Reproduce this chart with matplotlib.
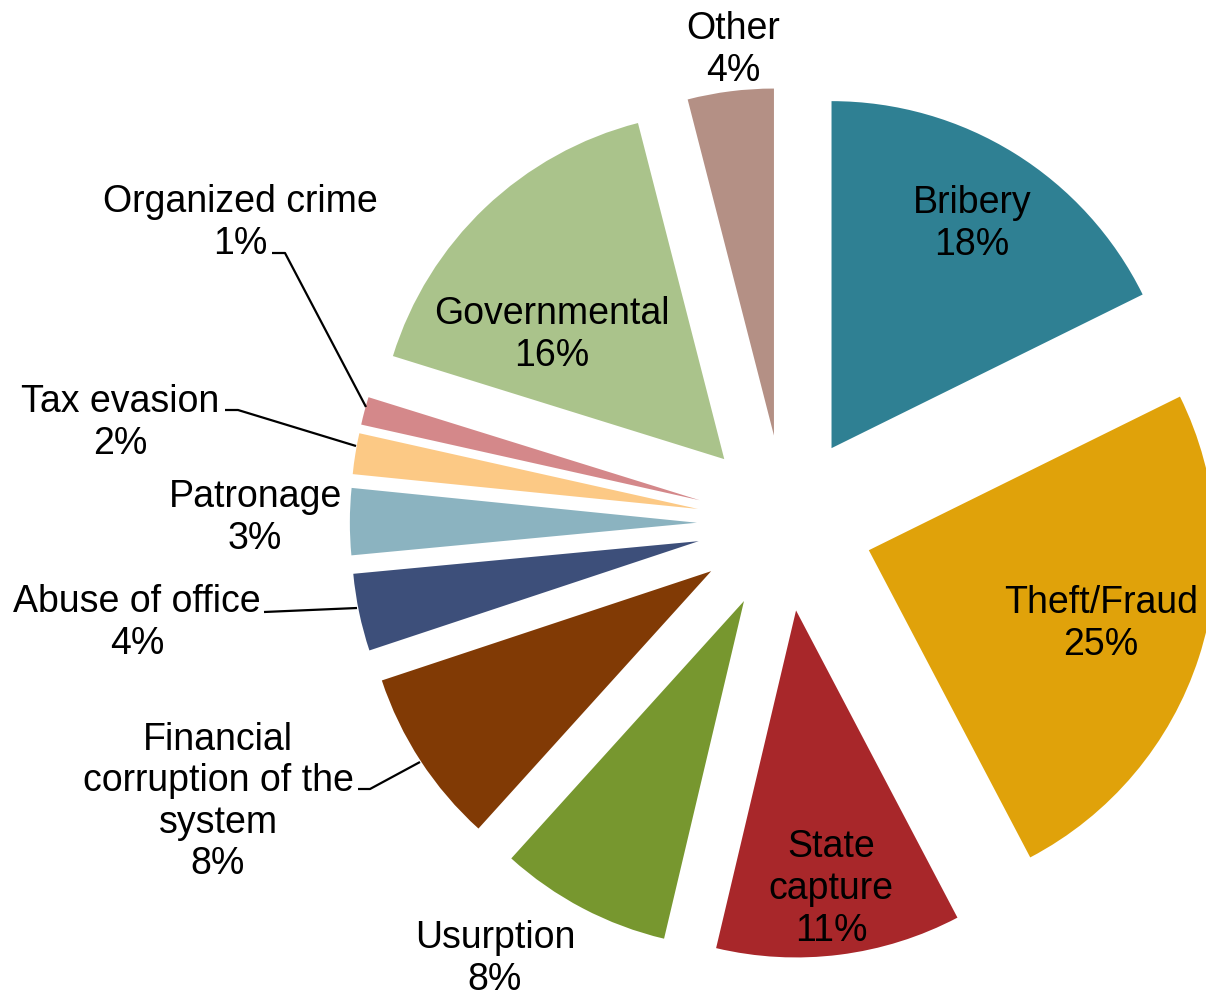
import matplotlib
matplotlib.use("Agg")
import matplotlib.pyplot as plt

categories = ["Bribery", "Theft/Fraud", "State capture", "Usurption",
              "Financial corruption of the system", "Abuse of office",
              "Patronage", "Tax evasion", "Organized crime", "Governmental", "Other"]
values = [17.7, 24.6, 11.4, 8.0, 8.2, 3.6, 3.1, 1.9, 1.3, 16.2, 4.0]
pct_labels = ["18%", "25%", "11%", "8%", "8%", "4%", "3%", "2%", "1%", "16%", "4%"]
display_names = ["Bribery", "Theft/Fraud", "State\ncapture", "Usurption",
                 "Financial\ncorruption of the\nsystem", "Abuse of office",
                 "Patronage", "Tax evasion", "Organized crime", "Governmental", "Other"]
colors = ["#2F8093", "#E0A20A", "#A8272A", "#77972F", "#813A05", "#3D4F7A",
          "#8BB3C0", "#FCC985", "#D4888A", "#AAC38B", "#B49085"]

W, H = 1206, 997
CX, CY, R = 785, 523, 347

def px(x, y):
    return ((x - CX) / R, (CY - y) / R)

# label centres in pixel coords
label_pos = [(972, 224), (1101, 624), (831, 889), (495, 959), (218, 802),
             (137, 623), (255, 518), (120, 423), (240, 223), (552, 335), (733, 50)]

# leader lines (pixel polylines)
leaders = {
    8: [(272, 253), (285, 253), (366, 407)],
    7: [(225, 410), (238, 410), (356, 446)],
    5: [(264, 612), (357, 608)],
    4: [(358, 789), (370, 789), (420, 762)],
}

fig = plt.figure(figsize=(W / 100, H / 100), dpi=100)
ax = fig.add_axes([0, 0, 1, 1])
ax.pie(values, colors=colors, startangle=90, counterclock=False,
       explode=[0.254] * len(values), radius=1.0, center=(0, 0),
       wedgeprops=dict(linewidth=0))
ax.set_xlim(-CX / R, (W - CX) / R)
ax.set_ylim(-(H - CY) / R, CY / R)
ax.set_aspect("auto")
ax.axis("off")

for i, (name, pct) in enumerate(zip(display_names, pct_labels)):
    x, y = px(*label_pos[i])
    ax.text(x, y, f"{name}\n{pct}", ha="center", va="center", fontsize=27,
            family="Liberation Sans", color="black", linespacing=1.2)

for k, pts in leaders.items():
    xs, ys = zip(*[px(*p) for p in pts])
    ax.plot(xs, ys, color="black", lw=1.6, solid_capstyle="butt")

fig.savefig("out.png", dpi=100)
